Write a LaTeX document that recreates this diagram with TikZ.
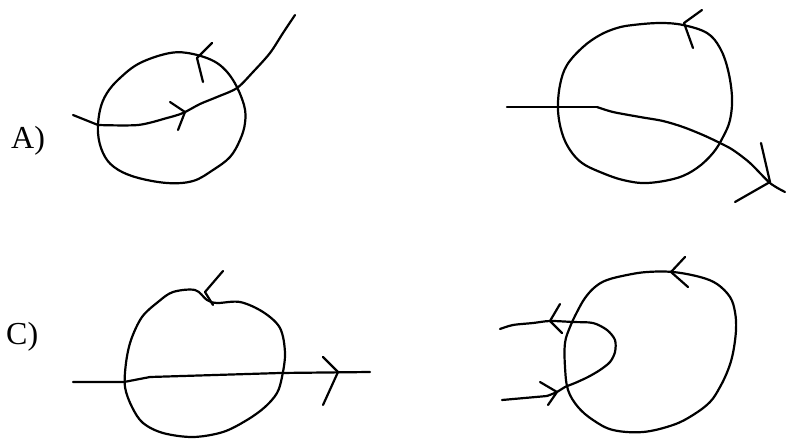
\documentclass[tikz,border=0pt]{standalone}
\usepackage{fontspec}
\setmainfont{Liberation Serif}
\begin{document}
\begin{tikzpicture}[x=1pt,y=-1pt,
  pen/.style={line width=2.2pt,line cap=round,line join=round,black},
  lbl/.style={anchor=base west,inner sep=0pt,font=\fontsize{32}{34}\selectfont}]
\useasboundingbox (0,0) rectangle (787,439);

% labels
\node[lbl] (la) at (11,148) {A)};
\node[lbl] (lc) at (6,344) {C)};

% ---------- Panel A ----------
\draw[pen] plot[smooth cycle,tension=0.6] coordinates {
 (170,53) (193,54) (217,63) (233,80) (244,105) (245,123) (240,140) (230,157)
 (213,170) (193,181) (167,183) (135,177) (114,167) (103,153) (98,133)
 (100,110) (107,93) (120,78) (140,63)};
\draw[pen] (73,115) -- (98,125);
\draw[pen] plot[smooth,tension=0.5] coordinates {
 (98,125) (138,125) (167,118) (183,113) (200,104) (217,97)
 (237,88) (253,72) (270,53) (283,33) (295,15)};
\draw[pen] (170,102) -- (185,112) -- (178,130);
\draw[pen] (212,43) -- (197,58) -- (203,82);

% ---------- Panel B ----------
\draw[pen] plot[smooth cycle,tension=0.6] coordinates {
 (633,25) (660,23) (683,25) (707,33) (720,48) (728,70) (732,97) (730,120)
 (723,137) (713,153) (697,168) (677,178) (647,183) (623,180) (600,172)
 (582,163) (570,150) (562,133) (558,110) (560,85) (567,65) (583,47)
 (600,35) (617,28)};
\draw[pen] (507,107) -- (597,107);
\draw[pen] plot[smooth,tension=0.5] coordinates {
 (597,107) (613,112) (640,117) (663,121) (683,127) (703,135) (720,143)
 (733,150) (750,163) (770,183) (785,192)};
\draw[pen] (761,143) -- (770,182) -- (735,202);
\draw[pen] (702,10) -- (684,23) -- (693,48);

% ---------- Panel C ----------
\draw[pen] plot[smooth cycle,tension=0.55] coordinates {
 (173,292) (195,290) (207,300) (217,303) (240,302) (263,312) (280,328)
 (285,353) (282,377) (277,393) (265,407) (247,420) (223,432) (193,437)
 (163,433) (143,423) (132,407) (125,387) (126,363) (131,340)
 (142,317) (158,302)};
\draw[pen] (73,382) -- (124,382) -- (150,377) -- (280,373) -- (370,372);
\draw[pen] (323,357) -- (338,372) -- (323,405);
\draw[pen] (223,271) -- (205,292) -- (213,305);

% ---------- Panel D ----------
\draw[pen] plot[smooth cycle,tension=0.6] coordinates {
 (647,272) (673,272) (700,277) (717,284) (730,297) (735,312) (736,330)
 (733,353) (728,370) (720,387) (710,402) (693,415) (673,425) (643,432)
 (613,430) (593,420) (578,407) (568,390) (565,367) (565,343) (570,327)
 (577,312) (585,298) (595,287) (607,280) (627,275)};
\draw[pen] (502,400) -- (547,396);
\draw[pen] plot[smooth,tension=0.5] coordinates {
 (547,396) (557,392) (565,387) (575,383) (588,377) (600,370) (610,362)
 (615,352) (615,340) (607,330) (593,323) (573,322) (550,321) (533,323)
 (513,325) (500,329)};
\draw[pen] (685,257) -- (671,272) -- (688,287);
\draw[pen] (560,304) -- (550,321) -- (562,333);
\draw[pen] (540,382) -- (557,392) -- (548,405);
\end{tikzpicture}
\end{document}
